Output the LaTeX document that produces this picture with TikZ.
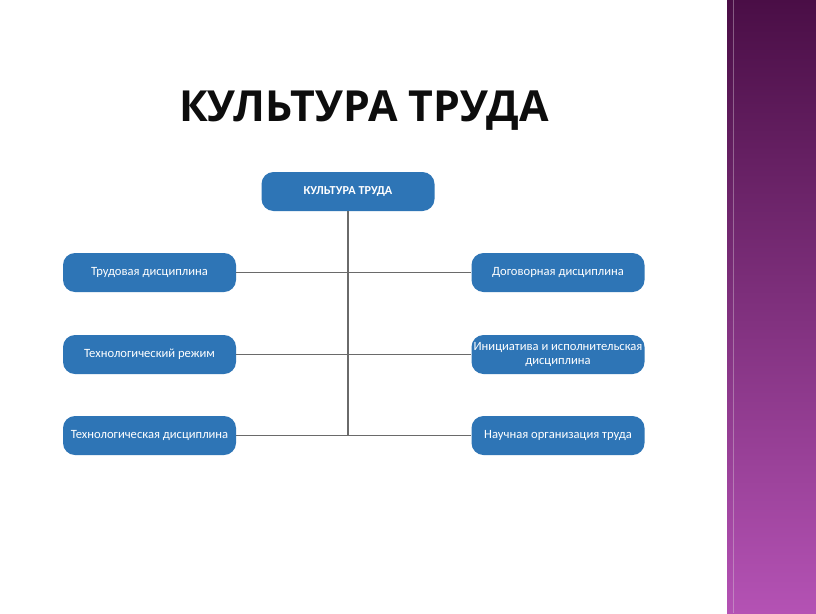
\documentclass[tikz,border=0pt]{standalone}
\usepackage{fontspec}
\setmainfont{Carlito}
\newfontfamily\titlefont{Open Sans}
\usetikzlibrary{positioning}
\definecolor{boxblue}{HTML}{2E75B6}
\definecolor{linegray}{HTML}{6A6A6A}
\definecolor{purpletop}{HTML}{4A0E46}
\definecolor{purplebot}{HTML}{B452B4}
\tikzset{
  box/.style={draw=none, fill=boxblue, rounded corners=12pt, minimum width=173pt, minimum height=39pt,
    text=white, font=\fontsize{12.6}{14}\selectfont, align=center, inner sep=1pt},
  conn/.style={draw=linegray, line width=1.3pt}
}
\begin{document}
\begin{tikzpicture}[x=1pt,y=-1pt]
\useasboundingbox (0,0) rectangle (816,613);
\fill[white] (0,0) rectangle (816,613);
% right decorative strip
\shade[top color=purpletop, bottom color=purplebot] (727,0) rectangle (816,613);
\draw[white!80!purpletop, line width=0.6pt, opacity=0.4] (733,0) -- (733,613);
% title
\node[anchor=base west, inner sep=0, font=\titlefont\bfseries\fontsize{42.8}{48}\selectfont, text=black!95] (title) at (179,121) {КУЛЬТУРА ТРУДА};
% boxes
\node[box, font=\bfseries\fontsize{12.2}{14}\selectfont] (top) at (348,191.5) {КУЛЬТУРА ТРУДА};
\node[box] (l1) at (149.5,272.5) {Трудовая дисциплина};
\node[box] (l2) at (149.5,354.5) {Технологический режим};
\node[box] (l3) at (149.5,435.5) {Технологическая дисциплина};
\node[box] (r1) at (558,272.5) {Договорная дисциплина};
\node[box] (r2) at (558,354.5) {Инициатива и исполнительская\\дисциплина};
\node[box] (r3) at (558,435.5) {Научная организация труда};
% connectors
\coordinate (bot) at (top.south |- l3.east);
\draw[conn] (top.south) -- (bot);
\draw[conn] (l1.east) -- (r1.west);
\draw[conn] (l2.east) -- (r2.west);
\draw[conn] (l3.east) -- (r3.west);
\end{tikzpicture}
\end{document}
